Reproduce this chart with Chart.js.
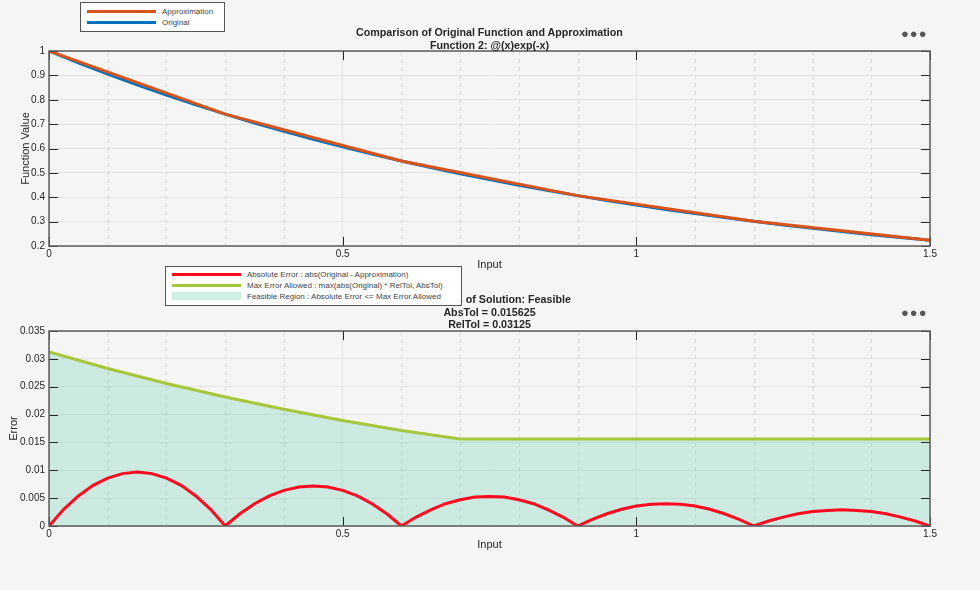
<!DOCTYPE html>
<html>
<head>
<meta charset="utf-8">
<script src="https://cdn.jsdelivr.net/npm/chart.js@4/dist/chart.umd.min.js"></script>
<style>
  body { margin: 0; background: #f5f5f5; font-family: "Liberation Sans", Arial, sans-serif; }
  #page { position: relative; width: 980px; height: 590px; overflow: hidden; }
  canvas { position: absolute; left: 0; }
  .title { position: absolute; left: 49px; width: 881px; text-align: center; font-weight: bold;
           font-size: 10.7px; line-height: 12.5px; color: #262626; }
  .legend { position: absolute; background: #fff; border: 1px solid #555; font-size: 8px; color: #444; z-index: 2; }
  .legend div { position: relative; height: 11px; line-height: 11px; white-space: nowrap; }
  .legend span.swatch { position: absolute; left: 6px; width: 69px; }
  .legend span.txt { position: absolute; left: 81px; }
  .dots { position: absolute; left: 901px; font-size: 13px; letter-spacing: 1px; color: #555; line-height: 10px; }
</style>
</head>
<body>
<div id="page">
  <canvas id="funcChart" width="980" height="290" style="top:0"></canvas>
  <canvas id="errChart" width="980" height="300" style="top:290px"></canvas>

  <div class="title" style="top:26px">Comparison of Original Function and Approximation<br>Function 2: @(x)exp(-x)</div>
  <div class="title" style="top:293px; left:60px">Status of Solution: Feasible</div>
  <div class="title" style="top:305.5px">AbsTol = 0.015625<br>RelTol = 0.03125</div>

  <div class="legend" style="left:80px; top:2px; width:143px; height:25px; padding-top:3px">
    <div><span class="swatch" style="top:4px; height:3px; background:#d95319"></span><span class="txt">Approximation</span></div>
    <div><span class="swatch" style="top:4px; height:3px; background:#0072bd"></span><span class="txt">Original</span></div>
  </div>
  <div class="legend" style="left:165px; top:266px; width:295px; height:36px; padding-top:2px">
    <div><span class="swatch" style="top:4px; height:3px; background:#ff0a1e"></span><span class="txt">Absolute Error : abs(Original - Approximation)</span></div>
    <div><span class="swatch" style="top:4px; height:3px; background:#a6c73a"></span><span class="txt">Max Error Allowed : max(abs(Original) * RelTol, AbsTol)</span></div>
    <div><span class="swatch" style="top:1px; height:8px; background:#cdefe3"></span><span class="txt">Feasible Region : Absolute Error &lt;= Max Error Allowed</span></div>
  </div>

  <div class="dots" style="top:29px">&#9679;&#9679;&#9679;</div>
  <div class="dots" style="top:308px">&#9679;&#9679;&#9679;</div>
</div>

<script>
// ---- data ----
const inputX = [0, 0.05, 0.1, 0.15, 0.2, 0.25, 0.3, 0.35, 0.4, 0.45, 0.5, 0.55, 0.6, 0.65, 0.7, 0.75,
                0.8, 0.85, 0.9, 0.95, 1.0, 1.05, 1.1, 1.15, 1.2, 1.25, 1.3, 1.35, 1.4, 1.45, 1.5];
const originalY = [1, 0.9512, 0.9048, 0.8607, 0.8187, 0.7788, 0.7408, 0.7047, 0.6703, 0.6376, 0.6065,
                   0.5769, 0.5488, 0.5220, 0.4966, 0.4724, 0.4493, 0.4274, 0.4066, 0.3867, 0.3679,
                   0.3499, 0.3329, 0.3166, 0.3012, 0.2865, 0.2725, 0.2592, 0.2466, 0.2346, 0.2231];
const approxX = [0, 0.3, 0.6, 0.9, 1.2, 1.5];
const approxY = [1, 0.7408, 0.5488, 0.4066, 0.3012, 0.2231];

const errX = [0, 0.025, 0.05, 0.075, 0.1, 0.125, 0.15, 0.175, 0.2, 0.225, 0.25, 0.275,
              0.3, 0.325, 0.35, 0.375, 0.4, 0.425, 0.45, 0.475, 0.5, 0.525, 0.55, 0.575,
              0.6, 0.625, 0.65, 0.675, 0.7, 0.725, 0.75, 0.775, 0.8, 0.825, 0.85, 0.875,
              0.9, 0.925, 0.95, 0.975, 1.0, 1.025, 1.05, 1.075, 1.1, 1.125, 1.15, 1.175,
              1.2, 1.225, 1.25, 1.275, 1.3, 1.325, 1.35, 1.375, 1.4, 1.425, 1.45, 1.475, 1.5];
const absErrY = [0, 0.0030, 0.0054, 0.0073, 0.0086, 0.0094, 0.0097, 0.0094, 0.0086, 0.0073, 0.0054, 0.0030,
                 0, 0.0022, 0.0040, 0.0054, 0.0064, 0.0070, 0.0072, 0.0070, 0.0064, 0.0054, 0.0040, 0.0022,
                 0, 0.0016, 0.0029, 0.0040, 0.0047, 0.0052, 0.0053, 0.0052, 0.0047, 0.0040, 0.0029, 0.0016,
                 0, 0.0012, 0.0022, 0.0030, 0.0036, 0.0039, 0.0040, 0.0039, 0.0036, 0.0030, 0.0022, 0.0012,
                 0, 0.0009, 0.0016, 0.0022, 0.0026, 0.0028, 0.0029, 0.0028, 0.0026, 0.0022, 0.0016, 0.0009, 0];
const maxErrX = [0, 0.1, 0.2, 0.3, 0.4, 0.5, 0.6, 0.7, 0.8, 0.9, 1.0, 1.1, 1.2, 1.3, 1.4, 1.5];
const maxErrY = [0.03125, 0.02828, 0.02559, 0.02315, 0.02095, 0.01895, 0.01715, 0.015625,
                 0.015625, 0.015625, 0.015625, 0.015625, 0.015625, 0.015625, 0.015625, 0.015625];

const xTickLabels = ['0', '0.5', '1', '1.5'];
const minorX = [0.1, 0.2, 0.3, 0.4, 0.6, 0.7, 0.8, 0.9, 1.1, 1.2, 1.3, 1.4];

const pts = (xs, ys) => xs.map((x, i) => ({ x: x, y: ys[i] }));

// MATLAB-like axes: dashed minor grid, inner tick marks, box
const matlabAxes = {
    id: 'matlabAxes',
    beforeDatasetsDraw(chart) {
        const { ctx, chartArea: a, scales: { x } } = chart;
        ctx.save();
        ctx.strokeStyle = '#dadada';
        ctx.lineWidth = 1;
        ctx.setLineDash([4, 4]);
        minorX.forEach(v => {
            const px = Math.round(x.getPixelForValue(v)) + 0.5;
            ctx.beginPath();
            ctx.moveTo(px, a.top);
            ctx.lineTo(px, a.bottom);
            ctx.stroke();
        });
        ctx.restore();
    },
    afterDatasetsDraw(chart) {
        const { ctx, chartArea: a, scales: { x, y } } = chart;
        ctx.save();
        ctx.strokeStyle = '#262626';
        ctx.lineWidth = 1;
        y.ticks.forEach(t => {
            const py = Math.round(y.getPixelForValue(t.value)) + 0.5;
            ctx.beginPath();
            ctx.moveTo(a.left, py); ctx.lineTo(a.left + 9, py);
            ctx.moveTo(a.right, py); ctx.lineTo(a.right - 9, py);
            ctx.stroke();
        });
        x.ticks.forEach(t => {
            const px = Math.round(x.getPixelForValue(t.value)) + 0.5;
            ctx.beginPath();
            ctx.moveTo(px, a.bottom); ctx.lineTo(px, a.bottom - 9);
            ctx.moveTo(px, a.top); ctx.lineTo(px, a.top + 9);
            ctx.stroke();
        });
        ctx.strokeStyle = '#5c5c5c';
        ctx.lineWidth = 1.5;
        ctx.strokeRect(a.left, a.top, a.right - a.left, a.bottom - a.top);
        ctx.restore();
    }
};

Chart.defaults.font.family = '"Liberation Sans", Arial, sans-serif';
Chart.defaults.color = '#262626';

function xScale(bottomHeight, titlePad) {
    return {
        type: 'linear', min: 0, max: 1.5,
        afterFit: s => { s.height = bottomHeight; },
        afterBuildTicks: s => { s.ticks = xTickLabels.map(v => ({ value: parseFloat(v) })); },
        ticks: { font: { size: 10 }, padding: 2, maxRotation: 0, autoSkip: false,
                 callback: v => xTickLabels.find(l => parseFloat(l) === v) },
        grid: { color: '#e3e3e3', drawTicks: false },
        border: { display: false },
        title: { display: true, text: 'Input', font: { size: 11 }, padding: titlePad }
    };
}

function yScale(min, max, step, label, titlePad, digits) {
    return {
        type: 'linear', min: min, max: max,
        afterFit: s => { s.width = 49; },
        ticks: { stepSize: step, font: { size: 10 }, padding: 4,
                 callback: v => String(+v.toFixed(digits)) },
        grid: { color: '#e3e3e3', drawTicks: false },
        border: { display: false },
        title: { display: true, text: label, font: { size: 11 }, padding: titlePad }
    };
}

const common = {
    responsive: false,
    animation: false,
    plugins: { legend: { display: false }, tooltip: { enabled: false } },
    elements: { point: { radius: 0 } }
};

new Chart(document.getElementById('funcChart'), {
    type: 'line',
    data: {
        datasets: [
            { label: 'Approximation', data: pts(approxX, approxY), borderColor: '#d95319', borderWidth: 3, tension: 0, order: 1 },
            { label: 'Original', data: pts(inputX, originalY), borderColor: '#0072bd', borderWidth: 3, tension: 0, order: 2 }
        ]
    },
    options: Object.assign({}, common, {
        layout: { padding: { top: 51, right: 50, left: 0, bottom: 0 } },
        scales: {
            x: xScale(44, { top: 0, bottom: 18 }),
            y: yScale(0.2, 1, 0.1, 'Function Value', { top: 19, bottom: 0 }, 1)
        }
    }),
    plugins: [matlabAxes]
});

new Chart(document.getElementById('errChart'), {
    type: 'line',
    data: {
        datasets: [
            { label: 'Absolute Error', data: pts(errX, absErrY), borderColor: '#ff0a1e', borderWidth: 3, tension: 0, order: 1 },
            { label: 'Max Error Allowed', data: pts(maxErrX, maxErrY), borderColor: '#a6c73a', borderWidth: 3,
              tension: 0, fill: 'origin', backgroundColor: 'rgba(60, 195, 150, 0.22)', order: 2 }
        ]
    },
    options: Object.assign({}, common, {
        layout: { padding: { top: 41, right: 50, left: 0, bottom: 0 } },
        scales: {
            x: xScale(64, { top: 0, bottom: 38 }),
            y: yScale(0, 0.035, 0.005, 'Error', { top: 7, bottom: 0 }, 3)
        }
    }),
    plugins: [matlabAxes]
});
</script>
</body>
</html>
